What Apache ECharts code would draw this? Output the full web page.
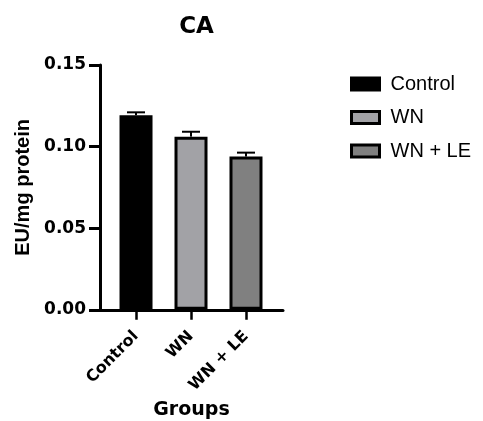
<!DOCTYPE html>
<html>
<head>
<meta charset="utf-8">
<script src="https://cdn.jsdelivr.net/npm/echarts@6/dist/echarts.min.js"></script>
<style>
  html, body { margin: 0; padding: 0; background: #fff; }
  #chart { width: 483px; height: 421px; }
</style>
</head>
<body>
<div id="chart"></div>
<script>
// CA activity per group (EU/mg protein), mean and SEM
const groups = ['Control', 'WN', 'WN + LE'];
const means = [0.1192, 0.1061, 0.0939];
const sems = [0.0018, 0.0030, 0.0024];
const fills = ['#000000', '#a2a2a6', '#808080'];

const chart = echarts.init(document.getElementById('chart'));

const barSeries = groups.map((g, i) => ({
  name: g,
  type: 'bar',
  barWidth: 33,
  barGap: '-100%',
  data: [[i, means[i]]],
  itemStyle: { color: fills[i], borderColor: '#000', borderWidth: 3 },
  z: 2
}));

// upper error bar with a cap, one per group
const errorSeries = {
  type: 'custom',
  name: 'sem',
  data: groups.map((g, i) => [i, means[i], sems[i]]),
  z: 3,
  renderItem: function (params, api) {
    const x = api.value(0), m = api.value(1), s = api.value(2);
    const top = api.coord([x, m + s]);
    const base = api.coord([x, m]);
    const hw = 9;
    const st = { stroke: '#000', lineWidth: 2 };
    return {
      type: 'group',
      children: [
        { type: 'line', shape: { x1: top[0], y1: base[1], x2: top[0], y2: top[1] }, style: st },
        { type: 'line', shape: { x1: top[0] - hw, y1: top[1], x2: top[0] + hw, y2: top[1] }, style: st }
      ]
    };
  }
};

chart.setOption({
  animation: false,
  backgroundColor: '#fff',
  title: {
    text: 'CA',
    left: 191.5,
    top: 11,
    textAlign: 'center',
    textStyle: { fontFamily: 'DejaVu Sans', fontWeight: 'bold', fontSize: 23, color: '#000' }
  },
  legend: {
    orient: 'vertical',
    left: 345,
    top: 69,
    itemWidth: 28,
    itemHeight: 12,
    itemGap: 13.5,
    icon: 'rect',
    data: groups,
    itemStyle: { borderColor: '#000', borderWidth: 3 },
    textStyle: { fontFamily: 'Liberation Sans', fontSize: 20, color: '#000', padding: [0, 0, 0, 6] }
  },
  grid: { left: 100, top: 65, width: 183, height: 244.8, containLabel: false, outerBoundsMode: 'none' },
  xAxis: {
    type: 'value',
    min: -0.655,
    max: 2.673,
    name: 'Groups',
    nameLocation: 'middle',
    nameGap: 87,
    nameTextStyle: { fontFamily: 'DejaVu Sans', fontWeight: 'bold', fontSize: 19, color: '#000' },
    splitLine: { show: false },
    axisLine: { show: true, onZero: false, lineStyle: { color: '#000', width: 3 } },
    axisTick: { show: true, length: 10, lineStyle: { color: '#000', width: 2.5 }, customValues: [0, 1, 2] },
    axisLabel: {
      customValues: [0, 1, 2],
      rotate: 45,
      margin: 24,
      formatter: v => groups[Math.round(v)],
      fontFamily: 'DejaVu Sans', fontWeight: 'bold', fontSize: 16, color: '#000'
    }
  },
  yAxis: {
    type: 'value',
    min: 0,
    max: 0.15,
    interval: 0.05,
    name: 'EU/mg protein',
    nameLocation: 'middle',
    nameGap: 67,
    nameRotate: 90,
    nameTextStyle: { fontFamily: 'Liberation Sans', fontWeight: 'bold', fontSize: 20, color: '#000' },
    splitLine: { show: false },
    axisLine: { show: true, onZero: false, lineStyle: { color: '#000', width: 3 } },
    axisTick: { show: true, length: 11, lineStyle: { color: '#000', width: 3 } },
    axisLabel: {
      margin: 14,
      formatter: v => v.toFixed(2),
      fontFamily: 'DejaVu Sans', fontWeight: 'bold', fontSize: 17, color: '#000'
    }
  },
  series: barSeries.concat([errorSeries])
});
</script>
</body>
</html>
